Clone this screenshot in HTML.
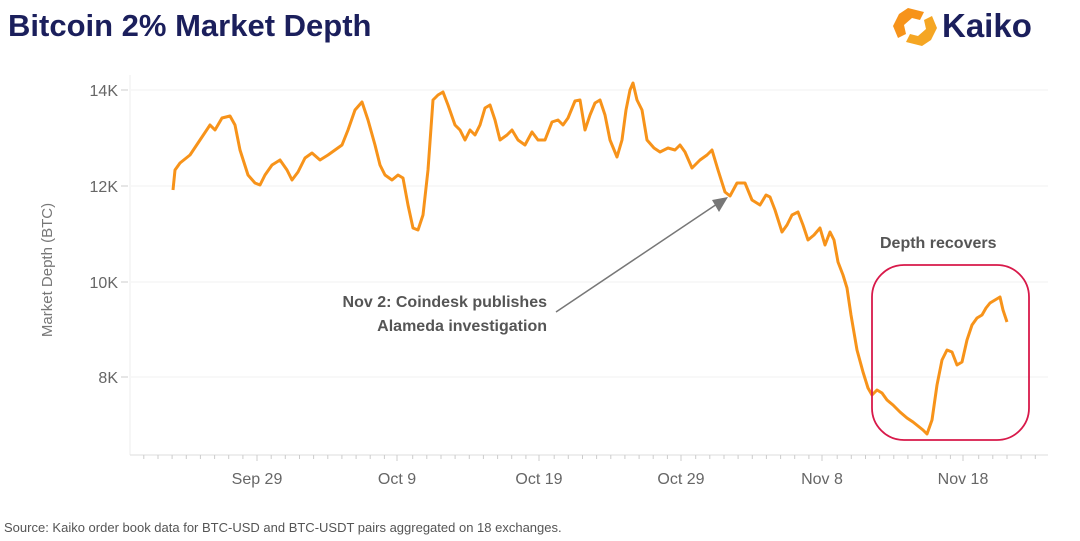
<!DOCTYPE html>
<html><head><meta charset="utf-8"><style>
body{margin:0;background:#fff;width:1080px;height:536px;overflow:hidden;font-family:"Liberation Sans",sans-serif}
</style></head><body>
<svg width="1080" height="536" xmlns="http://www.w3.org/2000/svg" font-family="Liberation Sans, sans-serif">
<text x="8" y="36" font-size="31" font-weight="bold" fill="#1b1f5c">Bitcoin 2% Market Depth</text>
<g transform="translate(890,6)">
<path d="M18 2 L34 6 L30 14 L22 12 L14 19 L16 28 L8 32 L3 20 L9 8 Z" fill="#f7931a"/>
<path d="M32 40 L16 36 L20 28 L28 30 L36 23 L34 14 L42 10 L47 22 L41 34 Z" fill="#f5a623"/>
</g>
<text x="942" y="37" font-size="33" font-weight="bold" fill="#1b1f5c">Kaiko</text>
<g stroke="#f0f0f0" stroke-width="1">
<line x1="131" y1="90" x2="1048" y2="90"/><line x1="131" y1="186" x2="1048" y2="186"/>
<line x1="131" y1="282" x2="1048" y2="282"/><line x1="131" y1="377" x2="1048" y2="377"/>
</g>
<line x1="130" y1="75" x2="130" y2="455" stroke="#eee"/>
<line x1="130" y1="455" x2="1048" y2="455" stroke="#ddd"/>
<g stroke="#ccc">
<line x1="121" y1="90" x2="128" y2="90"/><line x1="121" y1="186" x2="128" y2="186"/>
<line x1="121" y1="282" x2="128" y2="282"/><line x1="121" y1="377" x2="128" y2="377"/>
</g>
<g font-size="16" fill="#666" text-anchor="end">
<text x="118" y="96">14K</text><text x="118" y="192">12K</text><text x="118" y="288">10K</text><text x="118" y="383">8K</text>
</g>
<text transform="translate(52,270) rotate(-90)" font-size="15" fill="#777" text-anchor="middle">Market Depth (BTC)</text>
<path stroke="#ccc" fill="none" d="M143.8 455v4M158 455v4M172.1 455v4M186.3 455v4M200.4 455v4M214.6 455v4M228.7 455v4M242.9 455v4M257 455v6M271.2 455v4M285.3 455v4M299.5 455v4M313.6 455v4M327.8 455v4M341.9 455v4M356.1 455v4M370.2 455v4M384.4 455v4M397 455v6M412.7 455v4M426.8 455v4M441 455v4M455.1 455v4M469.3 455v4M483.4 455v4M497.6 455v4M511.7 455v4M525.9 455v4M539 455v6M554.2 455v4M568.3 455v4M582.5 455v4M596.6 455v4M610.8 455v4M624.9 455v4M639.1 455v4M653.2 455v4M667.4 455v4M681 455v6M695.7 455v4M709.8 455v4M724 455v4M738.1 455v4M752.3 455v4M766.4 455v4M780.6 455v4M794.7 455v4M808.9 455v4M822 455v6M837.2 455v4M851.3 455v4M865.5 455v4M879.6 455v4M893.8 455v4M907.9 455v4M922.1 455v4M936.2 455v4M950.4 455v4M963 455v6M978.7 455v4M992.8 455v4M1007 455v4M1021.1 455v4M1035.3 455v4"/>
<g font-size="16" fill="#666" text-anchor="middle">
<text x="257" y="484">Sep 29</text><text x="397" y="484">Oct 9</text><text x="539" y="484">Oct 19</text>
<text x="681" y="484">Oct 29</text><text x="822" y="484">Nov 8</text><text x="963" y="484">Nov 18</text>
</g>
<polyline fill="none" stroke="#f7931a" stroke-width="3" stroke-linejoin="round" points="173,190 175,170 180,163 190,155 200,140 210,125 215,130 222,118 230,116 235,125 240,150 248,175 255,183 260,185 265,175 272,165 280,160 287,170 292,180 298,172 305,158 312,153 320,160 328,155 335,150 342,145 348,130 355,110 362,102 368,120 375,145 380,165 385,175 392,180 398,175 403,178 408,205 413,228 418,230 423,215 428,170 433,100 438,95 443,92 448,105 455,125 460,130 465,140 470,130 475,135 480,125 485,108 490,105 495,120 500,140 507,135 512,130 518,140 525,145 532,132 538,140 545,140 552,122 558,120 563,125 568,118 575,101 580,100 585,130 590,115 595,103 600,100 605,115 610,140 617,157 622,140 626,110 630,90 633,83 637,100 642,110 647,140 654,148 660,152 668,148 675,150 680,145 685,152 692,168 700,160 707,155 712,150 718,170 725,192 730,196 737,183 745,183 752,200 760,205 766,195 770,197 775,210 782,232 787,225 792,215 798,212 803,225 808,240 814,235 820,228 825,245 830,232 834,240 838,262 843,275 847,288 851,315 857,350 863,372 868,388 872,395 877,390 882,393 887,400 893,405 900,412 907,418 913,422 918,426 923,430 927,434 932,420 937,385 942,360 947,350 952,352 957,365 962,362 967,340 972,325 977,318 982,315 986,308 990,303 995,300 1000,297 1003,310 1007,322"/>
<rect x="872" y="265" width="157" height="175" rx="32" fill="none" stroke="#d8194a" stroke-width="1.8"/>
<text x="880" y="248" font-size="16" font-weight="bold" fill="#555">Depth recovers</text>
<line x1="556" y1="312" x2="717" y2="204" stroke="#777" stroke-width="1.5"/>
<polygon points="728,197 712,200 719,212" fill="#777"/>
<g font-size="16" font-weight="bold" fill="#555" text-anchor="end">
<text x="547" y="307">Nov 2: Coindesk publishes</text>
<text x="547" y="331">Alameda investigation</text>
</g>
<text x="4" y="532" font-size="13" fill="#555">Source: Kaiko order book data for BTC-USD and BTC-USDT pairs aggregated on 18 exchanges.</text>
</svg>
</body></html>
